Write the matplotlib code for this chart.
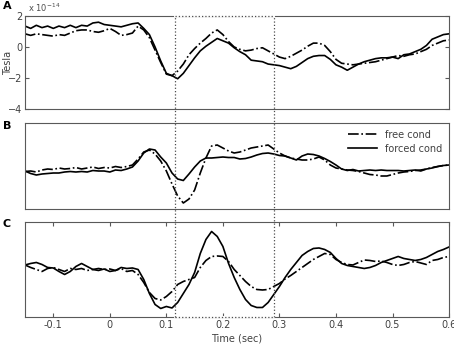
import numpy as np
import matplotlib
matplotlib.use('Agg')
import matplotlib.pyplot as plt
from matplotlib.transforms import blended_transform_factory

# time axis (sec)
t = np.round(np.arange(-0.15, 0.6001, 0.01), 2)

# panel A (x 1e-14 Tesla)
a_forced = [1.35, 1.2, 1.4, 1.25, 1.35, 1.2, 1.35, 1.25, 1.4, 1.25,
            1.4, 1.35, 1.55, 1.6, 1.45, 1.4, 1.35, 1.3, 1.4, 1.5,
            1.55, 1.2, 0.8, 0.0, -0.9, -1.7, -1.85, -2.05, -1.7, -1.2,
            -0.7, -0.25, 0.05, 0.3, 0.55, 0.4, 0.25, -0.05, -0.3, -0.5,
            -0.85, -0.9, -0.95, -1.1, -1.15, -1.2, -1.3, -1.4, -1.25, -1.0,
            -0.75, -0.6, -0.55, -0.55, -0.8, -1.15, -1.3, -1.5, -1.3, -1.1,
            -0.95, -0.85, -0.75, -0.7, -0.7, -0.65, -0.75, -0.5, -0.45, -0.3,
            -0.15, 0.1, 0.5, 0.65, 0.8, 0.85]
a_free = [0.85, 0.75, 0.85, 0.8, 0.75, 0.7, 0.8, 0.75, 0.9, 1.05,
          1.1, 1.1, 1.0, 0.95, 1.05, 1.2, 1.0, 0.75, 0.8, 0.9,
          1.35, 1.1, 0.6, -0.2, -1.0, -1.75, -1.85, -1.55, -1.1, -0.5,
          -0.1, 0.25, 0.55, 0.9, 1.1, 0.8, 0.35, 0.0, -0.15, -0.25,
          -0.2, -0.1, -0.05, -0.25, -0.45, -0.65, -0.75, -0.6, -0.4, -0.2,
          0.05, 0.25, 0.25, 0.1, -0.3, -0.8, -1.05, -1.1, -1.15, -1.1,
          -1.05, -1.0, -0.95, -0.85, -0.75, -0.65, -0.55, -0.6, -0.5, -0.45,
          -0.3, -0.15, 0.1, 0.25, 0.4, 0.45]

# panel B (arbitrary units)
b_forced = [-0.5, -0.75, -0.9, -0.8, -0.75, -0.7, -0.7, -0.6, -0.55, -0.6,
            -0.55, -0.6, -0.45, -0.5, -0.5, -0.6, -0.4, -0.45, -0.3, -0.1,
            0.5, 1.3, 1.7, 1.6, 0.9, 0.3, -0.7, -1.3, -1.45, -0.8,
            -0.1, 0.5, 0.8, 0.8, 0.85, 0.9, 0.85, 0.85, 0.7, 0.75,
            0.9, 1.1, 1.25, 1.3, 1.2, 1.05, 1.0, 0.8, 0.6, 1.0,
            1.2, 1.15, 1.0, 0.75, 0.45, 0.1, -0.3, -0.45, -0.35, -0.5,
            -0.45, -0.4, -0.45, -0.4, -0.45, -0.45, -0.45, -0.5, -0.45, -0.4,
            -0.5, -0.3, -0.2, -0.05, 0.05, 0.1]
b_free = [-0.55, -0.5, -0.6, -0.4, -0.3, -0.35, -0.2, -0.3, -0.25, -0.15,
          -0.3, -0.2, -0.1, -0.25, -0.15, -0.2, -0.05, -0.15, -0.05, 0.1,
          0.7, 1.4, 1.6, 1.2, 0.5, -0.5, -1.8, -3.0, -3.7, -3.3,
          -2.4, -0.7, 0.8, 2.0, 2.1, 1.8, 1.5, 1.3, 1.4, 1.6,
          1.8, 1.9, 2.0, 2.1, 1.7, 1.3, 1.0, 0.8, 0.7, 0.6,
          0.6, 0.7, 0.9, 0.6, 0.1, -0.2, -0.3, -0.4, -0.45, -0.55,
          -0.7, -0.85, -0.9, -1.0, -1.0, -0.85, -0.7, -0.6, -0.55, -0.45,
          -0.4, -0.3, -0.15, -0.05, 0.05, 0.1]

# panel C (arbitrary units)
c_forced = [0.45, 0.6, 0.7, 0.5, 0.2, 0.15, -0.2, -0.5, -0.2, 0.3,
            0.6, 0.3, 0.0, -0.1, 0.05, -0.2, -0.1, 0.2, 0.1, 0.15,
            0.0, -1.0, -2.4, -3.5, -3.9, -3.7, -3.85, -3.3, -2.4, -1.5,
            -0.3, 1.6, 3.0, 3.8, 3.3, 2.3, 0.6, -0.8, -2.0, -3.0,
            -3.6, -3.8, -3.8, -3.3, -2.5, -1.7, -0.8, 0.0, 0.7, 1.4,
            1.8, 2.1, 2.15, 2.0, 1.7, 1.1, 0.6, 0.4, 0.3, 0.2,
            0.1, 0.2, 0.4, 0.7, 0.9, 1.1, 1.3, 1.1, 1.0, 0.9,
            1.0, 1.2, 1.5, 1.8, 2.0, 2.25]
c_free = [0.45, 0.2, 0.0, -0.2, 0.1, 0.2, 0.0, -0.2, 0.1, 0.0,
          0.1, -0.1, 0.0, 0.1, 0.0, 0.05, -0.1, 0.1, -0.2, -0.1,
          -0.5, -1.3, -2.3, -2.9, -3.05, -2.7, -2.2, -1.5, -1.2, -1.0,
          -0.8, 0.2, 0.9, 1.3, 1.35, 1.3, 0.8, 0.0, -0.6, -1.2,
          -1.7, -2.0, -2.05, -2.0, -1.7, -1.4, -0.95, -0.6, -0.2, 0.2,
          0.6, 1.0, 1.3, 1.6, 1.5, 1.0, 0.7, 0.5, 0.45, 0.7,
          0.95, 0.9, 0.8, 0.85, 0.7, 0.5, 0.4, 0.5, 0.7, 0.8,
          0.65, 0.5, 0.9, 1.0, 1.2, 1.3]

win = [0.115, 0.29]   # dotted analysis window (sec)

fig = plt.figure(figsize=(4.54, 3.47), dpi=100)
axA = fig.add_axes([0.0551, 0.6859, 0.934, 0.268])
axB = fig.add_axes([0.0551, 0.3977, 0.934, 0.2478])
axC = fig.add_axes([0.0551, 0.0865, 0.934, 0.2738])

fc = '0.35'
for ax in (axA, axB, axC):
    ax.set_xlim(-0.15, 0.6)
    for s in ax.spines.values():
        s.set_color(fc)
        s.set_linewidth(0.8)
    ax.tick_params(direction='in', labelsize=7, colors=fc, labelcolor='0.25',
                   top=True, right=True, length=3, pad=2)

axA.plot(t, a_free, 'k-.', lw=1.2)
axA.plot(t, a_forced, 'k-', lw=1.2)
axA.set_ylim(-4, 2)
axA.set_yticks([2, 0, -2, -4])
axA.set_xticks([])
axA.set_ylabel('Tesla', fontsize=7, color='0.25')
axA.yaxis.set_label_coords(-0.028, 0.5)
fig.text(0.062, 0.978, r'x 10$^{-14}$', fontsize=6, color='0.3', va='center')

axB.plot(t, b_free, 'k-.', lw=1.2, label='free cond')
axB.plot(t, b_forced, 'k-', lw=1.2, label='forced cond')
axB.set_ylim(-4.3, 4.3)
axB.set_xticks([])
axB.set_yticks([])
axB.legend(loc='upper right', frameon=False, fontsize=7, handlelength=3,
           labelcolor='0.25', borderaxespad=0.3, labelspacing=0.4)

axC.plot(t, c_free, 'k-.', lw=1.2)
axC.plot(t, c_forced, 'k-', lw=1.2)
axC.set_ylim(-4.75, 4.75)
axC.set_yticks([])
axC.set_xticks([-0.1, 0, 0.1, 0.2, 0.3, 0.4, 0.5, 0.6])
axC.set_xticklabels(['-0.1', '0', '0.1', '0.2', '0.3', '0.4', '0.5', '0.6'])
axC.set_xlabel('Time (sec)', fontsize=7, color='0.25', labelpad=3)

# panel letters
for lab, y in (('A', 0.983), ('B', 0.637), ('C', 0.354)):
    fig.text(0.006, y, lab, fontsize=8, fontweight='bold',
             va='center', ha='left')

# dotted window spanning all panels
tr = blended_transform_factory(axC.transData, fig.transFigure)
y_top = axA.get_position().y1
y_bot = axC.get_position().y0
for x in win:
    fig.add_artist(plt.Line2D([x, x], [y_bot, y_top], transform=tr,
                              color='0.3', ls=':', lw=0.9, zorder=10))
for y in (y_top, y_bot):
    fig.add_artist(plt.Line2D(win, [y, y], transform=tr,
                              color='white', lw=1.4, zorder=9))
    fig.add_artist(plt.Line2D(win, [y, y], transform=tr,
                              color='0.3', ls=':', lw=0.9, zorder=10))

fig.savefig('out.png', dpi=100)
